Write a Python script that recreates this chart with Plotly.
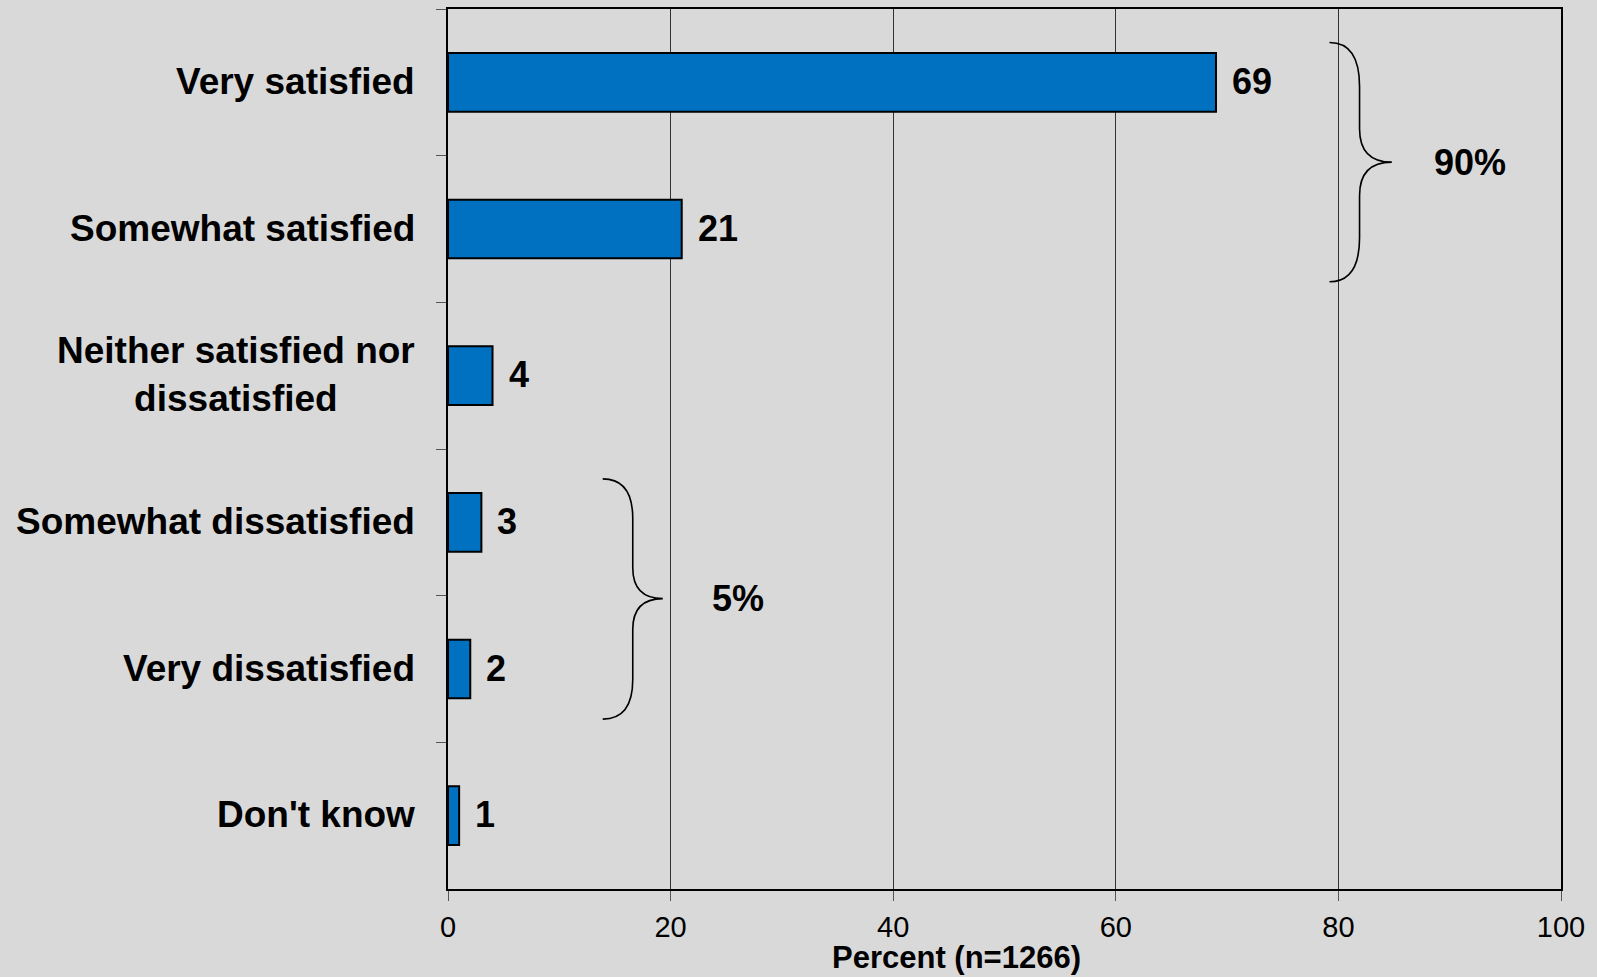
import plotly.graph_objects as go

# Survey responses (percent of n=1266)
categories = [
    "Very satisfied",
    "Somewhat satisfied",
    "Neither satisfied nor<br>dissatisfied",
    "Somewhat dissatisfied",
    "Very dissatisfied",
    "Don't know",
]
values = [69, 21, 4, 3, 2, 1]
x_ticks = [0, 20, 40, 60, 80, 100]
x_title = "Percent (n=1266)"

FONT = "Liberation Sans, Arial, sans-serif"
BG = "#d9d9d9"
BAR = "#0070c0"

fig = go.Figure()
fig.add_trace(go.Bar(
    x=values,
    y=categories,
    orientation="h",
    marker=dict(color=BAR, line=dict(color="black", width=2)),
    hoverinfo="x+y",
))

annotations = []
# category labels (centred multi-line text, right edge near the axis)
for c in categories:
    annotations.append(dict(
        x=0, xref="paper", y=c, yref="y",
        text=f"<b>{c}</b>", showarrow=False,
        xanchor="right", yanchor="middle", align="center",
        xshift=-31, yshift=1, font=dict(family=FONT, size=37, color="black"),
    ))
# value labels at the bar ends
for c, v in zip(categories, values):
    annotations.append(dict(
        x=v, xref="x", y=c, yref="y",
        text=f"<b>{v}</b>", showarrow=False,
        xanchor="left", yanchor="middle", xshift=14, yshift=1,
        font=dict(family=FONT, size=36, color="black"),
    ))
# axis title
annotations.append(dict(
    x=0.457, xref="paper", y=-0.078, yref="paper",
    text=f"<b>{x_title}</b>", showarrow=False,
    xanchor="center", yanchor="middle",
    font=dict(family=FONT, size=31, color="black"),
))


def brace(x0, xm, xtip, yt, ytip, yb, r1, r2):
    return (f"M {x0},{yt} Q {xm},{yt} {xm},{yt - r1} "
            f"L {xm},{ytip + r2} Q {xm},{ytip} {xtip},{ytip} "
            f"Q {xm},{ytip} {xm},{ytip - r2} "
            f"L {xm},{yb + r1} Q {xm},{yb} {x0},{yb}")


shapes = [
    dict(type="path", xref="x", yref="paper",
         path=brace(79.2, 81.9, 84.8, 0.962, 0.826, 0.690, 0.05, 0.038),
         line=dict(color="black", width=1.6)),
    dict(type="path", xref="x", yref="paper",
         path=brace(13.9, 16.6, 19.3, 0.466, 0.330, 0.193, 0.045, 0.035),
         line=dict(color="black", width=1.6)),
]
# group totals next to the braces
annotations.append(dict(
    x=91.8, xref="x", y=0.826, yref="paper",
    text=f"<b>{sum(values[0:2])}%</b>", showarrow=False,
    xanchor="center", yanchor="middle",
    font=dict(family=FONT, size=36, color="black"),
))
annotations.append(dict(
    x=26.1, xref="x", y=0.330, yref="paper",
    text=f"<b>{sum(values[3:5])}%</b>", showarrow=False,
    xanchor="center", yanchor="middle",
    font=dict(family=FONT, size=36, color="black"),
))

fig.update_layout(
    width=1597, height=977,
    margin=dict(l=448, r=36, t=7, b=88),
    paper_bgcolor=BG, plot_bgcolor=BG,
    bargap=0.6,
    showlegend=False,
    font=dict(family=FONT, color="black"),
    annotations=annotations,
    shapes=shapes,
    xaxis=dict(
        range=[0, 100], tickvals=x_ticks, ticktext=[str(t) for t in x_ticks],
        showgrid=True, gridcolor="#333333", gridwidth=1,
        showline=True, linecolor="black", linewidth=2, mirror=True,
        ticks="outside", ticklen=10, tickcolor="#555555", tickwidth=1,
        tickfont=dict(family=FONT, size=29, color="black"),
        ticklabelstandoff=1,
        zeroline=False, fixedrange=True,
    ),
    yaxis=dict(
        type="category", categoryorder="array", categoryarray=categories,
        autorange="reversed",
        showgrid=False, showticklabels=False,
        showline=True, linecolor="black", linewidth=2, mirror=True,
        ticks="outside", tickson="boundaries", ticklen=10,
        tickcolor="#555555", tickwidth=1,
        zeroline=False, fixedrange=True,
    ),
)

fig.write_html("out.html")
